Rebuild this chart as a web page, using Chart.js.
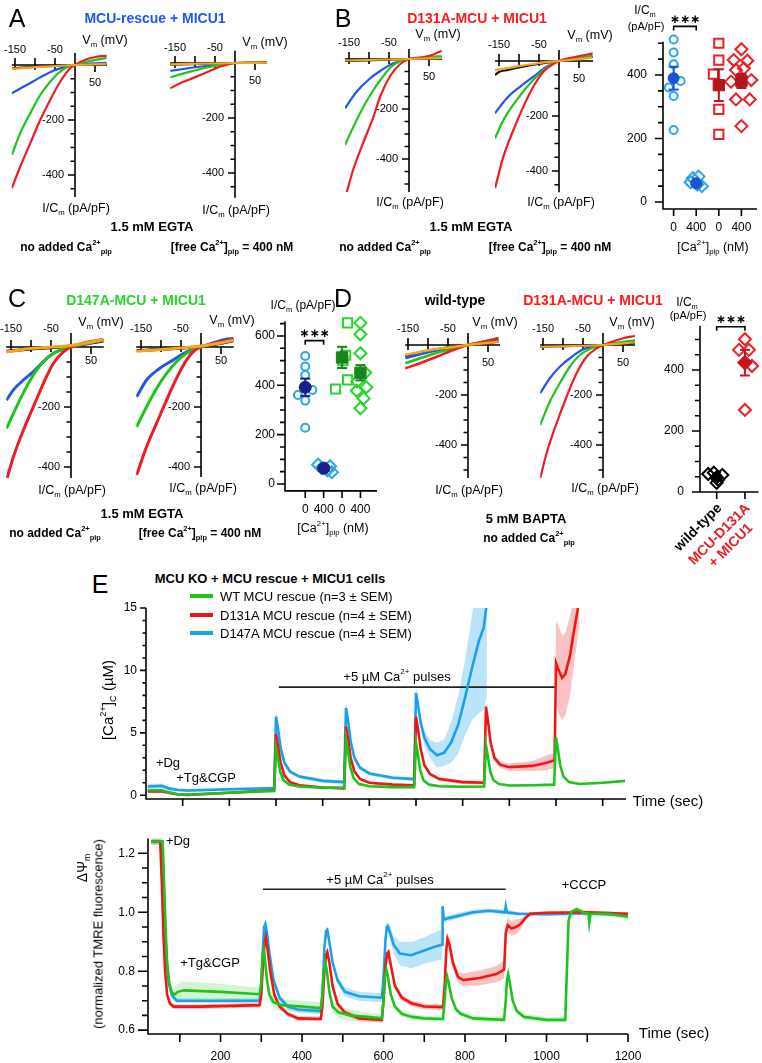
<!DOCTYPE html>
<html><head><meta charset="utf-8"><title>MCU figure</title>
<script src="https://cdn.jsdelivr.net/npm/chart.js@4.4.1/dist/chart.umd.min.js"></script>
<style>
html,body{margin:0;padding:0;background:#fff;}
body{position:relative;width:762px;height:1063px;overflow:hidden;font-family:"Liberation Sans",Arial,Helvetica,sans-serif;color:#000;}
canvas{position:absolute;}
.t{position:absolute;white-space:nowrap;transform:translate(-50%,-50%);line-height:1;}
.t sup{font-size:0.62em;vertical-align:0.75em;line-height:0;}
.t sub{font-size:0.62em;vertical-align:-0.4em;line-height:0;}
</style></head><body>
<script>
// ================= DATA =================
// IV axes
const ivXTicks=[-150,-100,-50,50];
const ivXLabels=[-150,-50,50];
const ivYTicks=[-50,-100,-150,-200,-250,-300,-350,-400,-450,-500];
const ivYLabels=[-200,-400];
// Panel A (MCU rescue + MICU1), [Vm mV, I/Cm pA/pF]
const ivA1Red=[[-158,-448],[-137,-370],[-112,-285],[-87,-200],[-62,-127],[-37,-61],[-12,-12],[0,0],[29,21],[54,30],[79,34]];
const ivA1Green=[[-158,-327],[-137,-248],[-112,-176],[-87,-109],[-62,-61],[-37,-24],[-15,-5],[0,0],[29,12],[79,26]];
const ivA1Blue=[[-158,-103],[-121,-73],[-87,-45],[-54,-21],[-21,-6],[0,0],[79,8]];
const ivA1Black=[[-158,-12],[-80,-5],[0,0],[79,3]];
const ivA1Orange=[[-158,-14],[-80,-6],[0,0],[79,3]];
const ivA2Red=[[-162,-92],[-137,-74],[-112,-59],[-87,-44],[-62,-28],[-37,-13],[-15,-4],[0,0],[80,2]];
const ivA2Green=[[-162,-52],[-121,-35],[-79,-19],[-37,-7],[0,0],[80,2]];
const ivA2Blue=[[-162,-29],[-121,-20],[-71,-10],[0,0],[80,2]];
const ivA2Black=[[-162,-6],[0,0],[80,1]];
const ivA2Orange=[[-162,-5],[0,0],[80,1]];
// Panel B (D131A)
const ivB1Red=[[-156,-535],[-139,-440],[-114,-333],[-89,-232],[-72,-150],[-47,-68],[-22,-20],[0,0],[30,6],[53,14],[82,33]];
const ivB1Green=[[-160,-344],[-139,-271],[-114,-191],[-89,-124],[-72,-85],[-47,-35],[-22,-8],[0,0],[82,12]];
const ivB1Blue=[[-160,-197],[-131,-131],[-97,-77],[-72,-48],[-39,-17],[0,0],[82,6]];
const ivB1Black=[[-160,-8],[0,0],[82,5]];
const ivB1Orange=[[-160,-6],[0,0],[82,4]];
const ivB2Red=[[-160,-463],[-139,-348],[-114,-251],[-89,-166],[-64,-93],[-39,-39],[-14,-11],[0,0],[52,18],[84,28]];
const ivB2Green=[[-160,-281],[-139,-215],[-106,-142],[-72,-81],[-39,-33],[-14,-8],[0,0],[84,20]];
const ivB2Blue=[[-160,-190],[-131,-136],[-97,-93],[-64,-57],[-31,-21],[0,0],[84,15]];
const ivB2Black=[[-160,-51],[-150,-40],[-131,-33],[-97,-22],[-50,-10],[0,0],[84,15]];
const ivB2Orange=[[-160,-33],[-114,-22],[-56,-9],[0,0],[84,12]];
// Panel C (D147A)
const ivC1Red=[[-161,-443],[-144,-366],[-119,-277],[-94,-199],[-69,-121],[-44,-54],[-19,-16],[0,0],[81,26]];
const ivC1Green=[[-161,-271],[-136,-199],[-111,-132],[-86,-77],[-61,-38],[-36,-16],[0,0],[81,23]];
const ivC1Blue=[[-161,-177],[-144,-143],[-119,-110],[-94,-82],[-69,-49],[-44,-21],[0,0],[81,23]];
const ivC1Black=[[-161,-14],[-100,-7],[0,3],[81,20]];
const ivC1Orange=[[-161,-16],[-100,-5],[0,5],[81,24]];
const ivC2Red=[[-161,-427],[-136,-332],[-111,-254],[-86,-177],[-61,-104],[-36,-43],[-15,-10],[0,0],[81,26]];
const ivC2Green=[[-161,-266],[-136,-199],[-111,-138],[-86,-88],[-61,-49],[-36,-21],[0,0],[81,24]];
const ivC2Blue=[[-161,-166],[-136,-110],[-103,-71],[-69,-43],[-36,-16],[0,0],[60,25],[81,28]];
const ivC2Black=[[-161,-12],[0,2],[81,20]];
const ivC2Orange=[[-161,-14],[0,3],[81,22]];
// Panel D (wild-type / D131A, BAPTA)
const ivD1Red=[[-157,-93],[-120,-73],[-78,-47],[-37,-20],[0,0],[40,13],[76,27]];
const ivD1Green=[[-157,-73],[-95,-40],[-37,-13],[0,0],[76,27]];
const ivD1Blue=[[-157,-53],[-95,-27],[0,0],[76,20]];
const ivD1Black=[[-157,-45],[-95,-22],[0,0],[76,14]];
const ivD1Orange=[[-157,-40],[-95,-20],[0,0],[76,13]];
const ivD2Red=[[-157,-533],[-141,-433],[-116,-313],[-91,-207],[-66,-113],[-41,-47],[-16,-13],[0,0],[51,27],[80,36]];
const ivD2Green=[[-157,-320],[-133,-227],[-108,-153],[-83,-87],[-58,-40],[-29,-13],[0,0],[80,19]];
const ivD2Blue=[[-157,-193],[-133,-133],[-108,-87],[-78,-47],[-49,-17],[0,0],[80,15]];
const ivD2Black=[[-157,-7],[0,0],[80,8]];
const ivD2Orange=[[-157,-7],[0,0],[80,10]];

// Scatter summaries (I/Cm, pA/pF)
const catB=[0,1,2,3]; const catBLabels=['0','400','0','400'];
const bWT0=[512,471,434,381,361,334,227]; const bWT0Dx=[0,0,0,0.31,-0.21,0,0];
const bWT400=[80,75,62,55,50]; const bWT400Dx=[0.1,-0.15,-0.25,0.05,0.25];
const bD0=[500,447,403,292,213]; const bD0Dx=[0,0,-0.24,0,0];
const bD400=[481,447,445,416,421,379,384,323,323,239]; const bD400Dx=[0,-0.34,0.26,-0.24,0.11,-0.46,0.44,-0.24,0.37,0];
const bMeans=[390,59,368,381]; const bSem=[36,6,50,22];
const catC=[0,1,2,3]; const catCLabels=['0','400','0','400'];
const cWT0=[519,476,442,381,361,338,228]; const cWT0Dx=[0,0,0,0.39,-0.4,0,0];
const cWT400=[78,72,65,55,48]; const cWT400Dx=[-0.3,0.35,-0.1,0.2,0.45];
const cD0=[653,522,500,422,385]; const cD0Dx=[0.3,0.2,0.05,0.3,-0.35];
const cD400=[653,607,530,451,415,392,378,347,307]; const cD400Dx=[0,0,0,0.26,-0.18,0.32,-0.2,0.17,0];
const cMeans=[392,64,513,451]; const cSem=[35,5,43,31];
const catD=[0,1]; const catDLabels=[['wild-type'],['MCU-D131A','+ MICU1']];
const dWT=[63,59,56,40,30]; const dWTDx=[-0.1,-0.3,0.2,0.05,0];
const dD=[501,466,466,413,269]; const dDDx=[0,-0.21,0.14,0.25,0];
const dMeans=[48,424]; const dSem=[6,42];
const scYTicks=[0,50,100,150,200,250,300,350,400,450,500,550,600,650];
const scYLabels=[0,200,400,600];

// Panel E: [time s, mean, SEM]
const caWT=[[25,0.4,0.1],[55,0.4,0.1],[70,0.25,0.1],[90,0.08,0.1],[110,0.05,0.1],[150,0.12,0.1],[200,0.2,0.1],[250,0.28,0.1],[296,0.35,0.1],[300,3.8,0.2],[304,3.0,0.2],[309,1.9,0.15],[316,1.2,0.1],[328,0.85,0.1],[350,0.7,0.1],[400,0.6,0.1],[446,0.6,0.1],[450,4.5,0.2],[454,3.6,0.2],[459,2.3,0.15],[466,1.4,0.1],[478,0.9,0.1],[500,0.72,0.1],[550,0.65,0.1],[596,0.65,0.1],[600,4.2,0.2],[604,3.3,0.2],[609,2.0,0.15],[616,1.2,0.1],[628,0.85,0.1],[650,0.72,0.1],[700,0.68,0.1],[746,0.7,0.1],[750,4.0,0.2],[754,3.1,0.2],[759,1.9,0.15],[766,1.2,0.1],[778,0.9,0.1],[800,0.78,0.1],[850,0.8,0.1],[896,0.85,0.1],[900,4.65,0.2],[904,3.7,0.2],[909,2.4,0.15],[916,1.5,0.1],[928,1.05,0.1],[950,0.9,0.1],[1000,1.0,0.1],[1048,1.15,0.1]];
const caD131A=[[25,0.3,0.1],[55,0.3,0.1],[70,0.2,0.1],[90,0.06,0.1],[110,0.03,0.1],[150,0.1,0.1],[200,0.2,0.1],[250,0.3,0.1],[296,0.4,0.1],[300,4.9,0.3],[304,4.0,0.3],[310,2.6,0.2],[318,1.6,0.15],[330,1.05,0.1],[350,0.8,0.1],[400,0.62,0.1],[446,0.55,0.1],[450,5.5,0.3],[454,4.6,0.3],[460,3.0,0.2],[468,1.9,0.15],[480,1.3,0.1],[500,1.0,0.1],[550,0.85,0.1],[596,0.8,0.1],[600,6.3,0.3],[604,5.4,0.3],[610,3.7,0.2],[618,2.4,0.15],[630,1.7,0.15],[650,1.3,0.15],[700,1.05,0.15],[746,1.0,0.15],[750,7.1,0.3],[754,6.0,0.3],[760,4.2,0.3],[768,3.0,0.25],[780,2.45,0.25],[800,2.25,0.3],[850,2.35,0.4],[880,2.6,0.6],[897,2.8,0.6],[900,10.6,3.4],[906,10.0,3.5],[913,9.4,3.4],[920,9.7,3.3],[930,11.2,3.2],[940,13.5,2.6],[950,15.6,2.0]];
const caD147A=[[25,0.7,0.2],[55,0.75,0.2],[70,0.55,0.15],[90,0.42,0.12],[110,0.38,0.12],[150,0.42,0.12],[200,0.48,0.12],[250,0.52,0.12],[296,0.58,0.12],[300,6.3,0.5],[304,5.4,0.5],[310,3.8,0.3],[318,2.6,0.25],[330,1.9,0.2],[350,1.5,0.15],[400,1.15,0.15],[446,1.05,0.15],[450,7.0,0.5],[454,6.1,0.5],[460,4.3,0.3],[468,3.0,0.25],[480,2.2,0.2],[500,1.75,0.15],[550,1.4,0.15],[596,1.3,0.15],[600,8.2,0.5],[604,7.3,0.5],[610,5.8,0.5],[618,4.6,0.6],[630,3.7,0.7],[645,3.2,1.0],[660,3.4,1.05],[675,4.2,1.6],[690,5.6,2.3],[705,7.8,3.0],[720,10.2,4.2],[735,12.4,5.8],[745,13.4,6.6],[752,15.5,7.5]];
const caYTicks=[0,1,2,3,4,5,6,7,8,9,10,11,12,13,14,15];
const caYLabels=[0,5,10,15];
const caXTicks=[100,200,300,400,500,600,700,800,900,1000];
const caPulseBar=[[306,8.66],[900,8.66]];

const psiWT=[[30,1.24,0.01],[58,1.24,0.01],[61,1.12,0.01],[65,0.95,0.01],[69,0.83,0.01],[74,0.76,0.015],[80,0.73,0.02],[86,0.72,0.02],[95,0.73,0.03],[110,0.735,0.03],[200,0.73,0.027],[296,0.722,0.022],[300,0.76,0.02],[303,0.85,0.02],[306,0.875,0.02],[309,0.84,0.02],[314,0.77,0.02],[320,0.72,0.02],[330,0.695,0.02],[350,0.685,0.02],[400,0.68,0.02],[446,0.675,0.02],[450,0.72,0.02],[453,0.8,0.02],[457,0.83,0.02],[461,0.8,0.02],[467,0.73,0.02],[475,0.68,0.02],[490,0.66,0.02],[520,0.65,0.02],[560,0.645,0.015],[596,0.64,0.015],[600,0.7,0.015],[603,0.78,0.015],[607,0.805,0.015],[611,0.78,0.015],[618,0.72,0.015],[628,0.68,0.01],[645,0.655,0.01],[670,0.645,0.01],[700,0.64,0.01],[746,0.638,0.01],[750,0.7,0.01],[753,0.76,0.01],[756,0.783,0.01],[760,0.76,0.01],[767,0.71,0.01],[778,0.67,0.01],[790,0.655,0.01],[820,0.64,0.01],[896,0.635,0.01],[900,0.7,0.01],[903,0.77,0.01],[906,0.79,0.01],[910,0.76,0.01],[917,0.7,0.01],[927,0.665,0.01],[945,0.645,0.01],[1000,0.635,0.01],[1046,0.635,0.01],[1050,0.8,0.01],[1054,0.97,0.01],[1060,1.0,0.01],[1074,1.01,0.01],[1090,1.0,0.01],[1103,0.995,0.01],[1105,0.965,0.01],[1108,0.995,0.01],[1150,0.995,0.01],[1200,0.985,0.01]];
const psiD131A=[[30,1.24,0.01],[52,1.24,0.01],[56,1.1,0.01],[60,0.92,0.01],[64,0.8,0.01],[69,0.72,0.01],[76,0.69,0.008],[85,0.68,0.008],[150,0.68,0.008],[296,0.685,0.008],[300,0.72,0.01],[304,0.82,0.01],[308,0.89,0.01],[311,0.915,0.01],[315,0.88,0.01],[322,0.8,0.01],[332,0.72,0.01],[345,0.68,0.01],[365,0.655,0.008],[390,0.64,0.008],[446,0.638,0.008],[450,0.68,0.01],[455,0.8,0.01],[459,0.855,0.01],[462,0.865,0.01],[467,0.83,0.01],[475,0.75,0.01],[487,0.69,0.01],[505,0.66,0.01],[540,0.64,0.01],[596,0.635,0.01],[600,0.7,0.01],[605,0.82,0.01],[609,0.86,0.01],[612,0.865,0.01],[618,0.82,0.01],[628,0.75,0.01],[645,0.71,0.01],[670,0.69,0.01],[700,0.68,0.01],[746,0.678,0.01],[750,0.75,0.01],[754,0.87,0.01],[757,0.91,0.01],[762,0.89,0.015],[770,0.83,0.02],[783,0.78,0.02],[796,0.77,0.022],[836,0.777,0.025],[877,0.79,0.028],[896,0.805,0.03],[900,0.93,0.025],[905,0.956,0.025],[914,0.945,0.025],[925,0.95,0.025],[935,0.958,0.02],[948,0.98,0.01],[960,0.995,0.005],[1000,0.998,0.005],[1100,1.0,0.005],[1200,0.995,0.005]];
const psiD147A=[[30,1.24,0.01],[56,1.24,0.01],[60,1.12,0.01],[64,0.95,0.01],[68,0.83,0.01],[73,0.76,0.01],[80,0.72,0.01],[92,0.70,0.008],[150,0.70,0.008],[296,0.70,0.008],[300,0.75,0.01],[304,0.88,0.01],[307,0.95,0.01],[310,0.96,0.01],[314,0.93,0.01],[320,0.86,0.01],[330,0.77,0.01],[345,0.71,0.01],[365,0.68,0.01],[390,0.67,0.01],[446,0.665,0.01],[450,0.72,0.01],[455,0.88,0.01],[459,0.935,0.01],[462,0.94,0.01],[467,0.9,0.01],[475,0.83,0.012],[487,0.77,0.012],[505,0.73,0.015],[540,0.715,0.015],[596,0.71,0.015],[600,0.78,0.015],[605,0.91,0.015],[608,0.95,0.015],[611,0.953,0.015],[616,0.93,0.02],[625,0.89,0.03],[640,0.86,0.04],[668,0.854,0.045],[700,0.87,0.045],[730,0.885,0.05],[744,0.89,0.05],[745,1.02,0.01],[748,0.975,0.01],[760,0.98,0.01],[790,0.99,0.01],[820,1.0,0.008],[860,1.005,0.008],[898,1.0,0.008],[900,1.02,0.008],[903,1.0,0.008],[930,0.995,0.006],[1000,0.993,0.006],[1100,0.997,0.006],[1200,0.99,0.006]];
const psiYTicks=[0.6,0.65,0.7,0.75,0.8,0.85,0.9,0.95,1.0,1.05,1.1,1.15,1.2];
const psiYLabels=[0.6,0.8,1.0,1.2];
const psiXTicks=[100,200,300,400,500,600,700,800,900,1000,1100,1200];
const psiXLabels=[200,400,600,800,1000,1200];
const psiPulseBar=[[304,1.078],[900,1.078]];

// ================= STYLE =================
const FONT='"Liberation Sans", Arial, Helvetica, sans-serif';
Chart.defaults.font.family=FONT;
const RED='#ee1c24', GREEN='#1fc41f', BLUE='#2356e6', BLACK='#111111', ORANGE='#f6a41c';
const E_GREEN='#1ec31e', E_RED='#f01616', E_BLUE='#1aa0ec';

function opts(xr,yr){
  return {responsive:false,animation:false,events:[],
    plugins:{legend:{display:false},tooltip:{enabled:false}},
    scales:{x:{type:'linear',display:false,min:xr[0],max:xr[1]},y:{type:'linear',display:false,min:yr[0],max:yr[1]}}};
}
function makeChart(area,m,config){
  const [x0,y0,x1,y1]=area;
  const bx=Math.floor(x0-m.l), by=Math.floor(y0-m.t);
  const bw=Math.ceil(x1+m.r)-bx, bh=Math.ceil(y1+m.b)-by;
  const c=document.createElement('canvas');
  c.width=bw;c.height=bh;c.style.left=bx+'px';c.style.top=by+'px';c.style.width=bw+'px';c.style.height=bh+'px';
  document.body.appendChild(c);
  config.options.layout={padding:{left:x0-bx,top:y0-by,right:bx+bw-x1,bottom:by+bh-y1}};
  return new Chart(c.getContext('2d'),config);
}

// ---------- IV plots ----------
function ivAxes(o){
  return {id:'ivAxes',beforeDatasetsDraw(chart){
    const {ctx,scales:{x,y}}=chart;
    const X=v=>x.getPixelForValue(v), Y=v=>y.getPixelForValue(v);
    const x0=X(0), y0=Y(0);
    ctx.save();ctx.strokeStyle='#000';ctx.lineWidth=1.6;ctx.beginPath();
    ctx.moveTo(X(x.min),y0);ctx.lineTo(X(x.max),y0);
    ctx.moveTo(x0,Y(y.max));ctx.lineTo(x0,Y(y.min));
    ivXTicks.forEach(v=>{const p=X(v); if(v<0){ctx.moveTo(p,y0-7);ctx.lineTo(p,y0+5);}else{ctx.moveTo(p,y0);ctx.lineTo(p,y0+7);}});
    ivYTicks.filter(v=>v>=y.min+5).forEach(v=>{const L=ivYLabels.includes(v)?7:4.5;const p=Y(v);ctx.moveTo(x0-L,p);ctx.lineTo(x0,p);});
    ctx.stroke();
    ctx.fillStyle='#000';ctx.font='11px '+FONT;ctx.textAlign='center';ctx.textBaseline='middle';
    ivXLabels.forEach(v=>{ctx.fillText(String(v),X(v), v<0? y0-(o.up||16): y0+(o.dn||17));});
    ctx.textAlign='right';
    ivYLabels.forEach(v=>{if(v>=y.min)ctx.fillText(String(v),x0-11,Y(v));});
    ctx.restore();
  }};
}
function ivChart(o){
  const kx=0.4;
  const area=[o.ox+o.xr[0]*kx,o.oy-o.yr[1]*o.ky,o.ox+o.xr[1]*kx,o.oy-o.yr[0]*o.ky];
  const curves=[[o.c[4],ORANGE],[o.c[0],RED],[o.c[1],GREEN],[o.c[2],BLUE],[o.c[3],BLACK]];
  const datasets=curves.map(([d,col])=>({data:d.map(p=>({x:p[0],y:p[1]})),borderColor:col,borderWidth:o.lw||2.2,pointRadius:0,cubicInterpolationMode:'monotone',fill:false}));
  makeChart(area,{l:45,r:12,t:28,b:22},{type:'line',data:{datasets},options:opts(o.xr,o.yr),plugins:[ivAxes(o)]});
}
ivChart({ox:75,oy:65,ky:0.275,xr:[-158,80],yr:[-480,44],c:[ivA1Red,ivA1Green,ivA1Blue,ivA1Black,ivA1Orange],up:15,dn:18});
ivChart({ox:235,oy:63,ky:0.275,xr:[-162,80],yr:[-490,45],c:[ivA2Red,ivA2Green,ivA2Blue,ivA2Black,ivA2Orange],up:15,dn:18});
ivChart({ox:409,oy:59,ky:0.25,xr:[-160,82],yr:[-532,40],c:[ivB1Red,ivB1Green,ivB1Blue,ivB1Black,ivB1Orange],up:16,dn:18});
ivChart({ox:559,oy:61,ky:0.275,xr:[-160,85],yr:[-477,40],c:[ivB2Red,ivB2Green,ivB2Blue,ivB2Black,ivB2Orange],up:16,dn:18});
ivChart({ox:71,oy:347,ky:0.3,xr:[-162,82],yr:[-437,47],c:[ivC1Red,ivC1Green,ivC1Blue,ivC1Black,ivC1Orange],up:18,dn:14,lw:3});
ivChart({ox:201,oy:347,ky:0.3,xr:[-162,82],yr:[-433,47],c:[ivC2Red,ivC2Green,ivC2Blue,ivC2Black,ivC2Orange],up:18,dn:14,lw:3});
ivChart({ox:468,oy:345,ky:0.25,xr:[-157,80],yr:[-532,48],c:[ivD1Red,ivD1Green,ivD1Blue,ivD1Black,ivD1Orange],up:16,dn:18,lw:2.6});
ivChart({ox:603,oy:345,ky:0.25,xr:[-157,80],yr:[-532,48],c:[ivD2Red,ivD2Green,ivD2Blue,ivD2Black,ivD2Orange],up:16,dn:18});

// ---------- scatter summaries ----------
function scAxes(s){
  return {id:'scAxes',beforeDatasetsDraw(chart){
    const {ctx,scales:{x,y},chartArea:a}=chart;
    const Y=v=>y.getPixelForValue(v), X=v=>x.getPixelForValue(v);
    ctx.save();ctx.strokeStyle='#000';ctx.lineWidth=1.6;ctx.beginPath();
    ctx.moveTo(a.left,a.top);ctx.lineTo(a.left,a.bottom);ctx.lineTo(a.right,a.bottom);
    scYTicks.filter(v=>v<=y.max-4).forEach(v=>{const L=scYLabels.includes(v)?8:5;ctx.moveTo(a.left-L,Y(v));ctx.lineTo(a.left,Y(v));});
    s.cats.forEach(c=>{ctx.moveTo(X(c),a.bottom);ctx.lineTo(X(c),a.bottom+7);});
    const [c0,c1,bv]=s.br; const by=Y(bv);
    ctx.moveTo(X(c0),by+4);ctx.lineTo(X(c0),by);ctx.lineTo(X(c1),by);ctx.lineTo(X(c1),by+4);
    ctx.stroke();
    ctx.fillStyle='#000';ctx.font='12px '+FONT;ctx.textAlign='right';ctx.textBaseline='middle';
    scYLabels.filter(v=>v<=y.max).forEach(v=>ctx.fillText(String(v),a.left-s.gap,Y(v)));
    ctx.font='bold 12px "DejaVu Sans"';ctx.textAlign='center';
    ctx.fillText('\u2217\u2217\u2217',(X(c0)+X(c1))/2,by-7);
    if(!s.rot){
      ctx.font='12px '+FONT;
      s.cats.forEach((c,i)=>ctx.fillText(s.labels[i],X(c),a.bottom+19));
    } else {
      ctx.font='bold 14px '+FONT;ctx.textBaseline='middle';
      s.cats.forEach((c,i)=>{
        ctx.save();ctx.translate(X(c)+3,a.bottom+14);ctx.rotate(-Math.PI/4);
        ctx.fillStyle=s.colors[i];
        const lines=s.labels[i];const w0=ctx.measureText(lines[0]).width;
        ctx.textAlign='right';ctx.fillText(lines[0],0,0);
        if(lines[1]){ctx.textAlign='center';ctx.fillText(lines[1],-w0/2,16);}
        ctx.restore();
      });
    }
    ctx.restore();
  }};
}
function pts(vals,dx,c){return vals.map((v,i)=>({x:c+(dx[i]||0),y:v}));}
function scChart(o){
  const area=[o.ax,o.oy-o.yr[1]*o.ky,o.ax+(o.xr[1]-o.xr[0])*o.kx,o.oy-o.yr[0]*o.ky];
  const ds=[];
  o.means.forEach((m,i)=>ds.push({data:[{x:o.cats[i],y:m}],pointStyle:o.meanStyle[i],pointRadius:o.meanR[i],backgroundColor:o.meanCol[i],borderColor:o.meanCol[i],borderWidth:1,clip:false}));
  o.means.forEach((m,i)=>ds.push({data:[{x:o.cats[i],y:m-o.sem[i]},{x:o.cats[i],y:m+o.sem[i]}],showLine:true,borderColor:o.meanCol[i],borderWidth:2,pointStyle:'line',pointRadius:5,pointBorderColor:o.meanCol[i],pointBorderWidth:2,clip:false}));
  o.groups.forEach((g,i)=>ds.push({data:pts(g[0],g[1],o.cats[i]),pointStyle:o.style[i],pointRadius:o.r[i],backgroundColor:'rgba(255,255,255,0)',borderColor:o.col[i],borderWidth:2,clip:false}));
  makeChart(area,{l:40,r:6,t:30,b:o.rot?80:30},{type:'scatter',data:{datasets:ds},options:opts(o.xr,o.yr),plugins:[scAxes({cats:o.cats,labels:o.labels,gap:o.gap,br:o.br,rot:o.rot,colors:o.labCol})]});
}
scChart({ax:663,oy:202,ky:0.3175,kx:23.3,xr:[-0.47,3.69],yr:[-22,505],cats:catB,labels:catBLabels,gap:16,br:[0,1,553],
  groups:[[bWT0,bWT0Dx],[bWT400,bWT400Dx],[bD0,bD0Dx],[bD400,bD400Dx]],style:['circle','rectRot','rect','rectRot'],r:[4,6,6.5,6],
  col:['#29a7e6','#29a7e6',RED,RED],means:bMeans,sem:bSem,meanStyle:['circle','circle','rect','rect'],meanR:[5.5,5.5,8,8],meanCol:['#1c52d6','#1c52d6','#b0161a','#b0161a']});
scChart({ax:285,oy:484,ky:0.2467,kx:19,xr:[-1.1,3.9],yr:[-28,660],cats:catC,labels:catCLabels,gap:10,br:[0,1,581],
  groups:[[cWT0,cWT0Dx],[cWT400,cWT400Dx],[cD0,cD0Dx],[cD400,cD400Dx]],style:['circle','rectRot','rect','rectRot'],r:[4,6,6.5,6],
  col:['#29a7e6','#29a7e6','#2ad42a','#2ad42a'],means:cMeans,sem:cSem,meanStyle:['circle','circle','rect','rect'],meanR:[6,6,8,8],meanCol:['#1b1f8a','#1b1f8a','#17861c','#17861c']});
scChart({ax:700,oy:492,ky:0.305,kx:29,xr:[-0.59,1.48],yr:[0,545],cats:catD,labels:catDLabels,gap:16,br:[0,1,542],rot:true,labCol:['#000',RED],
  groups:[[dWT,dWTDx],[dD,dDDx]],style:['rectRot','rectRot'],r:[6,6],
  col:['#000',RED],means:dMeans,sem:dSem,meanStyle:['rectRot','rectRot'],meanR:[7,7.5],meanCol:['#000','#c8141c']});

// ---------- Panel E time courses ----------
function timeAxes(s){
  return {id:'tAxes',beforeDatasetsDraw(chart){
    const {ctx,scales:{x,y},chartArea:a}=chart;
    const Y=v=>y.getPixelForValue(v), X=v=>x.getPixelForValue(v);
    ctx.save();ctx.strokeStyle='#000';ctx.lineWidth=1.6;ctx.beginPath();
    ctx.moveTo(a.left,a.top);ctx.lineTo(a.left,a.bottom);ctx.lineTo(a.right,a.bottom);
    s.yTicks.forEach(v=>{const L=s.yLabels.some(l=>Math.abs(l-v)<1e-6)?s.maj:s.min;ctx.moveTo(a.left-L,Y(v));ctx.lineTo(a.left,Y(v));});
    s.xTicks.forEach(v=>{ctx.moveTo(X(v),a.bottom);ctx.lineTo(X(v),a.bottom+s.xt);});
    ctx.stroke();
    ctx.fillStyle='#000';ctx.font='12px '+FONT;ctx.textAlign='right';ctx.textBaseline='middle';
    s.yLabels.forEach(v=>ctx.fillText(s.fmt(v),a.left-s.gap,Y(v)));
    ctx.textAlign='center';
    s.xLabels.forEach(v=>ctx.fillText(String(v),X(v),a.bottom+23));
    ctx.restore();
  }};
}
function timeChart(o){
  const ds=[];
  o.series.forEach(([d,col])=>ds.push({data:d.map(p=>({x:p[0],y:p[1]})),borderColor:col,borderWidth:2.6,pointRadius:0,fill:false,order:1}));
  ds.push({data:o.bar.map(p=>({x:p[0],y:p[1]})),borderColor:'#222',borderWidth:1.6,pointRadius:0,fill:false,order:2});
  o.series.forEach(([d,col,band])=>{
    ds.push({data:d.map(p=>({x:p[0],y:p[1]+p[2]})),borderWidth:0,borderColor:'rgba(0,0,0,0)',pointRadius:0,backgroundColor:band,fill:'+1',order:5});
    ds.push({data:d.map(p=>({x:p[0],y:p[1]-p[2]})),borderWidth:0,borderColor:'rgba(0,0,0,0)',pointRadius:0,fill:false,order:5});
  });
  makeChart(o.area,{l:45,r:30,t:10,b:35},{type:'line',data:{datasets:ds},options:opts(o.xr,o.yr),plugins:[timeAxes(o.ax)]});
}
const BAND_G='rgba(110,220,110,0.3)', BAND_R='rgba(245,120,120,0.45)', BAND_B='rgba(120,200,245,0.5)';
timeChart({area:[146,608,626,799],xr:[21.4,1050],yr:[-0.3,15],bar:caPulseBar,
  series:[[caWT,E_GREEN,BAND_G],[caD131A,E_RED,BAND_R],[caD147A,E_BLUE,BAND_B]],
  ax:{yTicks:caYTicks,yLabels:caYLabels,xTicks:caXTicks,xLabels:[],maj:6,min:3.5,xt:7,gap:9,fmt:v=>String(v)}});
timeChart({area:[148,838.5,628,1034],xr:[22,1200],yr:[0.587,1.25],bar:psiPulseBar,
  series:[[psiWT,E_GREEN,BAND_G],[psiD131A,E_RED,BAND_R],[psiD147A,E_BLUE,BAND_B]],
  ax:{yTicks:psiYTicks,yLabels:psiYLabels,xTicks:psiXTicks,xLabels:psiXLabels,maj:10,min:6,xt:8,gap:13,fmt:v=>v.toFixed(1)}});

// ================= TEXT =================
function T(x,y,html,css){const d=document.createElement('div');d.className='t';d.style.left=x+'px';d.style.top=y+'px';if(css)d.style.cssText+=css;d.innerHTML=html;document.body.appendChild(d);}
const VM='V<sub>m</sub> (mV)', IC='I/C<sub>m</sub> (pA/pF)';
const CA0='no added Ca<sup>2+</sup><sub>pip</sub>', CA400='[free Ca<sup>2+</sup>]<sub>pip</sub> = 400 nM', CAX='[Ca<sup>2+</sup>]<sub>pip</sub> (nM)';
const LET='font-size:25px;', TIT='font-size:14px;font-weight:bold;', LAB='font-size:12.5px;', BLD='font-size:13px;font-weight:bold;', BLD12='font-size:12px;font-weight:bold;';
// A
T(17,18,'A',LET);T(155,18,'MCU-rescue + MICU1',TIT+'color:#1f55ff;');
T(105,40,VM,LAB);T(265,42,VM,LAB);T(76,208,IC,LAB);T(236,210,IC,LAB);
T(152,226,'1.5 mM EGTA',BLD);T(66,247,CA0,BLD12);T(232,247,CA400,BLD12);
// B
T(343,18,'B',LET);T(477,18,'D131A-MCU + MICU1',TIT+'color:#ff1a1a;');
T(438,34,VM,LAB);T(590,35,VM,LAB);T(410,202,IC,LAB);T(561,202,IC,LAB);
T(471,226,'1.5 mM EGTA',BLD);T(385,247,CA0,BLD12);T(550,247,CA400,BLD12);
T(645,10,'I/C<sub>m</sub>','font-size:12px;');T(646,26,'(pA/pF)','font-size:11px;');T(713,247,CAX,'font-size:12.5px;');
// C
T(17,298,'C',LET);T(136,300,'D147A-MCU + MICU1',TIT+'color:#2bd42b;');
T(101,322,VM,LAB);T(232,320,VM,LAB);T(72,490,IC,LAB);T(203,488,IC,LAB);
T(142,513,'1.5 mM EGTA',BLD);T(55,533,CA0,BLD12);T(200,533,CA400,BLD12);
T(303,305,IC,'font-size:12px;');T(333,528,CAX,'font-size:12.5px;');
// D
T(343,298,'D',LET);T(455,300,'wild-type',TIT);T(593,300,'D131A-MCU + MICU1',TIT+'color:#ff1a1a;');
T(495,322,VM,LAB);T(632,322,VM,LAB);T(469,490,IC,LAB);T(605,488,IC,LAB);
T(526,518,'5 mM BAPTA',BLD);T(529,538,CA0,BLD12);
T(687,302,'I/C<sub>m</sub>','font-size:12px;');T(688,315,'(pA/pF)','font-size:11px;');
// E
T(100,584,'E',LET);T(270,578,'MCU KO + MCU rescue + MICU1 cells',BLD);
const legend=[['WT MCU rescue (n=3 \u00b1 SEM)',E_GREEN],['D131A MCU rescue (n=4 \u00b1 SEM)',E_RED],['D147A MCU rescue (n=4 \u00b1 SEM)',E_BLUE]];
legend.forEach(([txt,col],i)=>{const y=596+i*18.5;
  const l=document.createElement('div');l.style.cssText='position:absolute;left:190px;width:23px;height:4px;top:'+(y-2)+'px;background:'+col+';';document.body.appendChild(l);
  const d=document.createElement('div');d.style.cssText='position:absolute;left:220px;top:'+y+'px;transform:translateY(-50%);font-size:13px;white-space:nowrap;line-height:1;';d.textContent=txt;document.body.appendChild(d);});
T(107,700,'[Ca<sup>2+</sup>]<sub>C</sub> (\u00b5M)','font-size:15px;transform:translate(-50%,-50%) rotate(-90deg);');
T(168,762,'+Dg','font-size:13px;');T(206,777,'+Tg&amp;CGP','font-size:13px;');
T(397,676,'+5 \u00b5M Ca<sup>2+</sup> pulses','font-size:13px;');T(668,800,'Time (sec)','font-size:15px;');
T(82,868,'\u0394\u03a8<sub>m</sub>','font-size:14px;transform:translate(-50%,-50%) rotate(-90deg);');
T(98,934,'(normalized TMRE fluorescence)','font-size:13px;transform:translate(-50%,-50%) rotate(-90deg);');
T(178,840,'+Dg','font-size:13px;');T(210,962,'+Tg&amp;CGP','font-size:13px;');
T(380,879,'+5 \u00b5M Ca<sup>2+</sup> pulses','font-size:13px;');T(584,884,'+CCCP','font-size:13px;');T(674,1032,'Time (sec)','font-size:15px;');
</script>
</body></html>
